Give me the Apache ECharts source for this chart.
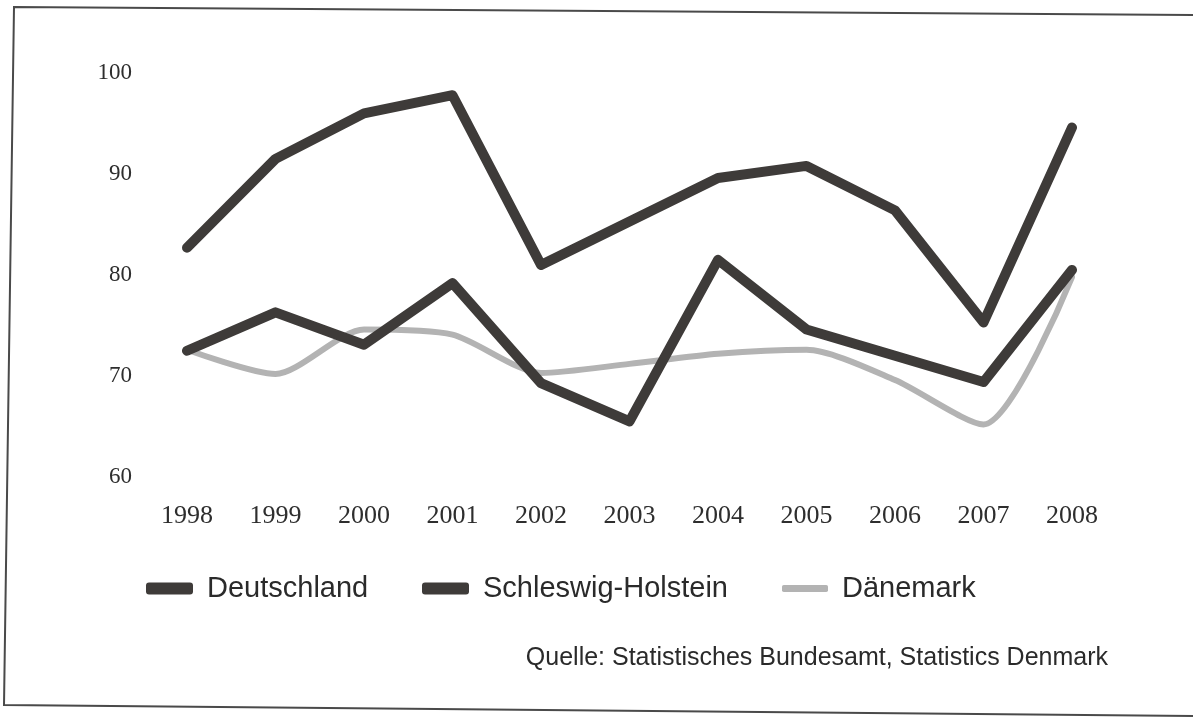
<!DOCTYPE html>
<html>
<head>
<meta charset="utf-8">
<script src="https://cdn.jsdelivr.net/npm/echarts@6/dist/echarts.min.js"></script>
<style>
html,body{margin:0;padding:0;background:#fff;}
#chart{width:1193px;height:717px;}
</style>
</head>
<body>
<div id="chart"></div>
<script>
const years = ['1998','1999','2000','2001','2002','2003','2004','2005','2006','2007','2008'];
const deutschland = [82.7, 91.5, 96.0, 97.8, 81.0, 85.3, 89.6, 90.8, 86.4, 75.3, 94.6];
const schleswigHolstein = [72.5, 76.3, 73.1, 79.2, 69.3, 65.5, 81.5, 74.6, 72.0, 69.4, 80.5];
const daenemark = [72.6, 70.2, 74.6, 74.1, 70.3, 71.2, 72.2, 72.6, 69.6, 65.2, 79.8];
const yTicks = [60, 70, 80, 90, 100];
const sourceText = 'Quelle: Statistisches Bundesamt, Statistics Denmark';

const dark = '#3e3b39';
const light = '#b3b3b3';
const sansFont = "'Liberation Sans', Arial, sans-serif";
const serifFont = "'Liberation Serif', 'Times New Roman', serif";

const chart = echarts.init(document.getElementById('chart'));

function legendFor(name, left, color, w, h) {
  return {
    data: [{ name: name, icon: 'roundRect', itemStyle: { color: color, borderWidth: 0 } }],
    left: left,
    top: 569,
    itemWidth: w,
    itemHeight: h,
    selectedMode: false,
    textStyle: { fontFamily: sansFont, fontSize: 29, color: '#2a2a2a', padding: [0, 0, 0, 9] }
  };
}

chart.setOption({
  backgroundColor: '#ffffff',
  animation: false,
  grid: { left: 187, right: 121, top: 73, bottom: 240, containLabel: false },
  xAxis: {
    type: 'category',
    data: years,
    boundaryGap: false,
    axisLine: { show: false },
    axisTick: { show: false },
    splitLine: { show: false },
    axisLabel: { margin: 26, fontFamily: serifFont, fontSize: 26, color: '#2e2e2e' }
  },
  yAxis: {
    type: 'value',
    min: yTicks[0],
    max: yTicks[yTicks.length - 1],
    interval: 10,
    axisLine: { show: false },
    axisTick: { show: false },
    splitLine: { show: false },
    axisLabel: { margin: 55, fontFamily: serifFont, fontSize: 23, color: '#2e2e2e' }
  },
  legend: [
    legendFor('Deutschland', 141, dark, 47, 12),
    legendFor('Schleswig-Holstein', 417, dark, 47, 12),
    legendFor('Dänemark', 777, light, 46, 7)
  ],
  series: [
    {
      name: 'Dänemark', type: 'line', data: daenemark, symbol: 'none', smooth: 0.25, z: 1,
      lineStyle: { color: light, width: 6, cap: 'round', join: 'round' }, itemStyle: { color: light }
    },
    {
      name: 'Schleswig-Holstein', type: 'line', data: schleswigHolstein, symbol: 'none', z: 2,
      lineStyle: { color: dark, width: 10, cap: 'round', join: 'round' }, itemStyle: { color: dark }
    },
    {
      name: 'Deutschland', type: 'line', data: deutschland, symbol: 'none', z: 3,
      lineStyle: { color: dark, width: 10, cap: 'round', join: 'round' }, itemStyle: { color: dark }
    }
  ],
  graphic: [
    { type: 'polyline', shape: { points: [[1193, 15], [14, 7], [4, 705], [1193, 716]] },
      style: { stroke: '#4a4a4a', lineWidth: 2, fill: null }, silent: true },
    { type: 'text', right: 1193 - 1108, top: 646,
      style: { text: sourceText, font: "25px " + sansFont, fill: '#2a2a2a' } }
  ]
});
</script>
</body>
</html>
